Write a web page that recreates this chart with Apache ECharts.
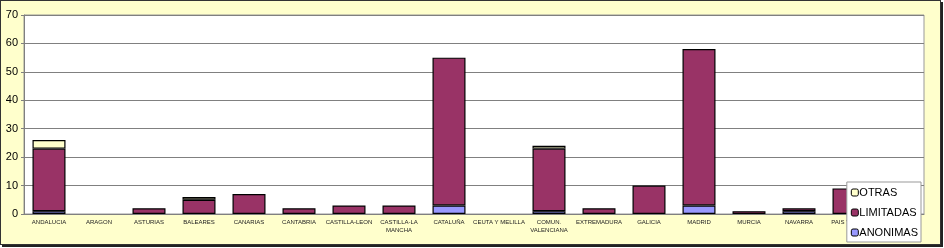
<!DOCTYPE html>
<html><head><meta charset="utf-8">
<script src="https://cdn.jsdelivr.net/npm/echarts@6/dist/echarts.min.js"></script>
<style>
html,body{margin:0;padding:0;background:#fff;}
#wrap{position:absolute;left:0;top:0;width:939px;height:243px;background:#FFFFCC;border:1px solid #333;box-shadow:2px 2px 0 #222;}
#c{width:939px;height:243px;}
</style></head><body>
<div id="wrap"><div id="c"></div></div>
<script>
const categories = ['ANDALUCIA','ARAGON','ASTURIAS','BALEARES','CANARIAS','CANTABRIA','CASTILLA-LEON','CASTILLA-LA\nMANCHA','CATALUÑA','CEUTA Y MELILLA','COMUN.\nVALENCIANA','EXTREMADURA','GALICIA','MADRID','MURCIA','NAVARRA','PAIS VASCO','LA RIOJA'];
const anonimas  = [1,0,0,0,0,0,0,0,3,0,1,0,0,3,0,1,0,0];
const limitadas = [22,0,2,5,7,2,3,3,52,0,22,2,10,55,1,1,9,1];
const otras     = [3,0,0,1,0,0,0,0,0,0,1,0,0,0,0,0,0,0];
const yTicks = [0,10,20,30,40,50,60,70];

const noZero = (arr) => arr.map(v => v === 0 ? null : v);
const chart = echarts.init(document.getElementById('c'), null, {renderer:'canvas'});
const barStyle = (color) => ({color: color, borderColor:'#000', borderWidth:1.2});
chart.setOption({
  animation:false,
  grid:{left:23,right:16,top:14,bottom:30,backgroundColor:'#fff',show:true,borderColor:'#999',borderWidth:1},
  legend:{
    orient:'vertical', right:19, bottom:2, z:20,
    backgroundColor:'#fff', borderColor:'#999', borderWidth:1, padding:[5,3,4,4],
    itemWidth:7, itemHeight:7, itemGap:9,
    textStyle:{fontFamily:'Liberation Sans, Arial', fontSize:11, color:'#000', padding:[0,0,0,-4]},
    data:['OTRAS','LIMITADAS','ANONIMAS'],
    itemStyle:{borderColor:'#000',borderWidth:1}
  },
  xAxis:{
    type:'category', data:categories,
    axisLine:{lineStyle:{color:'#808080'}}, axisTick:{show:false},
    axisLabel:{interval:0, fontFamily:'Liberation Sans, Arial', fontSize:6, color:'#222', margin:4, lineHeight:8}
  },
  yAxis:{
    type:'value', min:0, max:70, interval:10,
    axisLine:{show:true,lineStyle:{color:'#808080'}},
    axisTick:{show:true,inside:false,length:3,lineStyle:{color:'#808080'}},
    splitLine:{lineStyle:{color:'#808080',width:1}},
    axisLabel:{fontFamily:'Liberation Sans, Arial', fontSize:11, color:'#000', margin:6,
      formatter:(v)=> yTicks.includes(v) ? String(v) : ''}
  },
  series:[
    {name:'ANONIMAS',type:'bar',stack:'s',data:noZero(anonimas),barWidth:'66%',itemStyle:barStyle('#9999FF')},
    {name:'LIMITADAS',type:'bar',stack:'s',data:noZero(limitadas),barWidth:'66%',itemStyle:barStyle('#993366')},
    {name:'OTRAS',type:'bar',stack:'s',data:noZero(otras),barWidth:'66%',itemStyle:barStyle('#FFFFCC')}
  ]
});
</script>
</body></html>
